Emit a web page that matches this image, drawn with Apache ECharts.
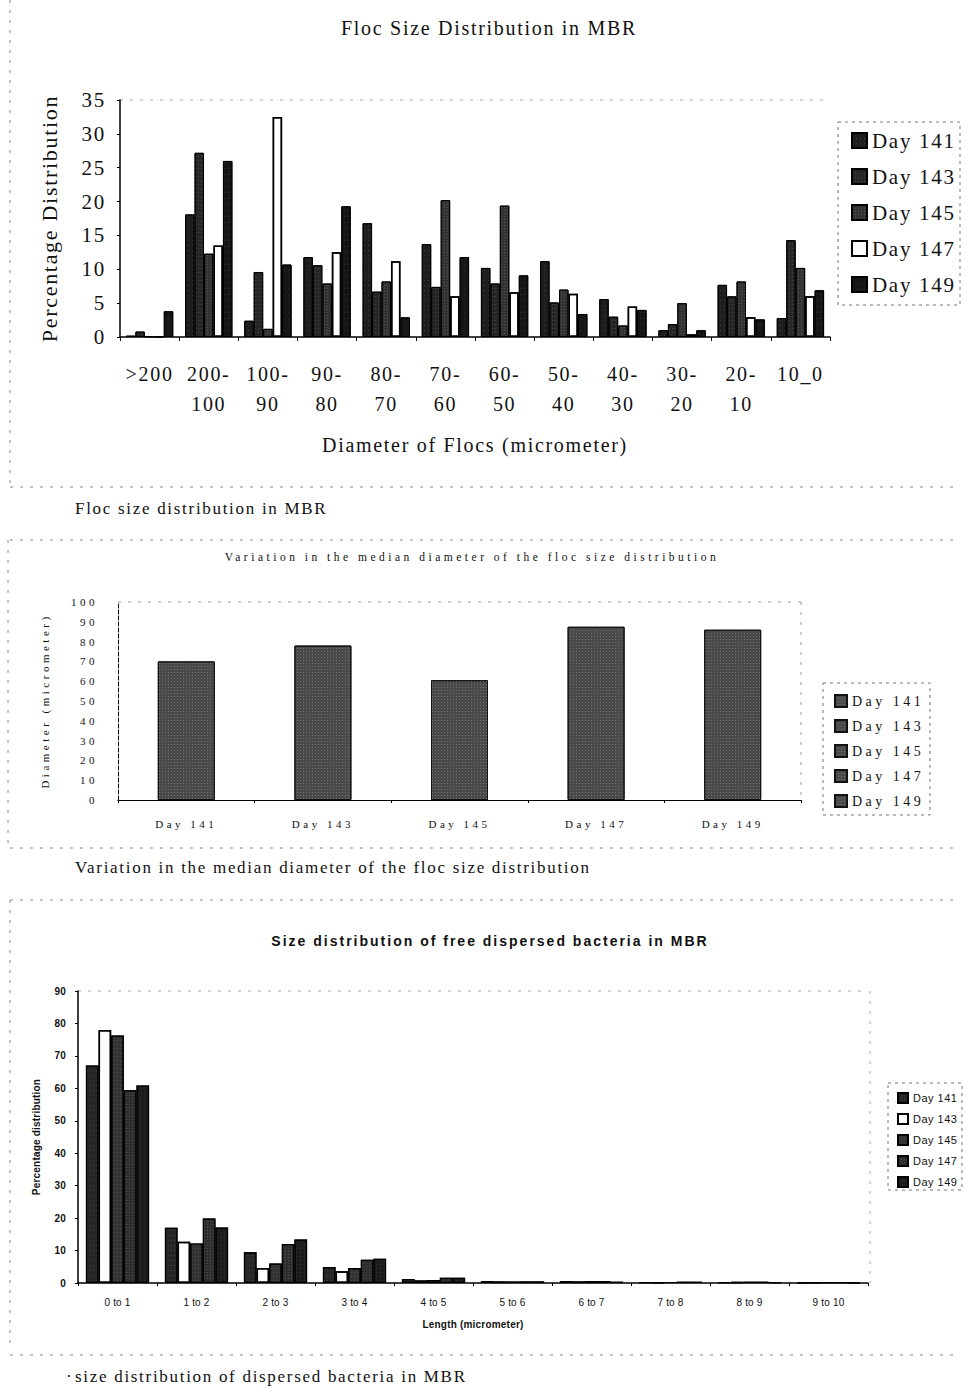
<!DOCTYPE html>
<html><head><meta charset="utf-8">
<script src="https://cdn.jsdelivr.net/npm/echarts@6/dist/echarts.min.js"></script>
<style>
html,body{margin:0;padding:0;background:#fff;}
#main{position:absolute;left:0;top:0;width:963px;height:1388px;}
</style></head><body>
<div id="main"></div>
<script>
// ---------- Chart 1: Floc size distribution ----------
const flocCategories = ['>200','200-100','100-90','90-80','80-70','70-60','60-50','50-40','40-30','30-20','20-10','10_0'];
const flocDay141 = [0.2, 18.1, 2.4, 11.8, 16.8, 13.7, 10.2, 11.2, 5.6, 1.0, 7.7, 2.8];
const flocDay143 = [0.8, 27.2, 9.6, 10.6, 6.7, 7.4, 7.9, 5.1, 3.0, 1.9, 6.0, 14.3];
const flocDay145 = [0.1, 12.3, 1.2, 7.9, 8.2, 20.2, 19.4, 7.0, 1.7, 5.0, 8.2, 10.2];
const flocDay147 = [0.1, 13.5, 32.5, 12.5, 11.2, 6.0, 6.6, 6.4, 4.5, 0.4, 2.9, 6.0];
const flocDay149 = [3.8, 26.0, 10.7, 19.3, 2.9, 11.8, 9.1, 3.4, 4.0, 1.0, 2.6, 6.9];
const flocTicks = [0,5,10,15,20,25,30,35];

// ---------- Chart 2: median diameter ----------
const medianCategories = ['Day 141','Day 143','Day 145','Day 147','Day 149'];
const medianDiameter = [70, 78, 60.5, 87.5, 86];
const medianTicks = [0,10,20,30,40,50,60,70,80,90,100];

// ---------- Chart 3: dispersed bacteria ----------
const bactCategories = ['0 to 1','1 to 2','2 to 3','3 to 4','4 to 5','5 to 6','6 to 7','7 to 8','8 to 9','9 to 10'];
const bactDay141 = [67.0, 17.0, 9.5, 4.9, 1.2, 0.6, 0.6, 0.2, 0.2, 0.1];
const bactDay143 = [78.0, 12.7, 4.6, 3.6, 0.8, 0.5, 0.5, 0.2, 0.3, 0.1];
const bactDay145 = [76.3, 12.2, 6.0, 4.6, 0.9, 0.5, 0.6, 0.3, 0.4, 0.2];
const bactDay147 = [59.4, 19.9, 12.0, 7.2, 1.6, 0.5, 0.6, 0.4, 0.4, 0.2];
const bactDay149 = [60.9, 17.1, 13.4, 7.5, 1.6, 0.5, 0.4, 0.4, 0.2, 0.1];
const bactTicks = [0,10,20,30,40,50,60,70,80,90];

const dayNames = ['Day 141','Day 143','Day 145','Day 147','Day 149'];

const SERIF = '"Liberation Serif","Times New Roman",serif';
const SANS = '"Liberation Sans",Arial,sans-serif';

function speckle(alpha, dx, dy) {
  return {symbol:'rect', symbolSize:0.7, color:'rgba(255,255,255,' + alpha + ')',
          dashArrayX:[1, dx], dashArrayY:[1, dy], rotation:0};
}
const flocStyles = [
  {color:'#1e1e1e', borderColor:'#000', borderWidth:1, decal:speckle(0.35,3,4)},
  {color:'#262626', borderColor:'#000', borderWidth:1, decal:speckle(0.4,2,3)},
  {color:'#333333', borderColor:'#000', borderWidth:1, decal:speckle(0.45,2,2)},
  {color:'#ffffff', borderColor:'#000', borderWidth:1.5, decal:speckle(0,3,3)},
  {color:'#161616', borderColor:'#000', borderWidth:1, decal:speckle(0.3,3,5)}
];
const bactStyles = [
  {color:'#262626', borderColor:'#000', borderWidth:1.2, decal:speckle(0.35,2,4)},
  {color:'#ffffff', borderColor:'#000', borderWidth:1.5, decal:speckle(0,3,3)},
  {color:'#333333', borderColor:'#000', borderWidth:1.2, decal:speckle(0.4,2,3)},
  {color:'#2e2e2e', borderColor:'#000', borderWidth:1.2, decal:speckle(0.45,2,2)},
  {color:'#1c1c1c', borderColor:'#000', borderWidth:1.2, decal:speckle(0.3,3,3)}
];
const medStyle = {color:'#4a4a4a', borderColor:'#111', borderWidth:1, decal:speckle(0.6,2,2)};
const flocData = [flocDay141, flocDay143, flocDay145, flocDay147, flocDay149];
const bactData = [bactDay141, bactDay143, bactDay145, bactDay147, bactDay149];
const medNames = dayNames.map(n => n + '  ');
const bactNames = dayNames.map(n => n + ' ');

const dash = (x1,y1,x2,y2,c) => ({type:'line', silent:true,
  shape:{x1,y1,x2,y2}, style:{stroke:c||'#8a8a8a', lineWidth:1, lineDash:[3,7]}});
const txt = (x,y,text,font,align) => ({type:'text', x, y,
  style:{text, font, fill:'#111', align:align||'left', verticalAlign:'middle'}});
const box = (x,y,w,h) => ({type:'rect', shape:{x, y, width:w, height:h}, silent:true,
  style:{fill:'none', stroke:'#777', lineWidth:1, lineDash:[3,4]}});

const chart = echarts.init(document.getElementById('main'), null, {renderer:'svg'});
chart.setOption({
  backgroundColor:'#fff',
  animation:false,
  aria:{enabled:true, decal:{show:true}},
  grid:[
    {left:120, top:100, width:710, height:237},
    {left:78, top:991, width:790, height:292},
    {left:118, top:602, width:683, height:198}
  ],
  xAxis:[
    {type:'category', gridIndex:0, data:flocCategories,
     axisLine:{lineStyle:{color:'#000', width:1.5}},
     axisTick:{show:true, length:4, lineStyle:{color:'#000'}},
     axisLabel:{interval:0, margin:22, color:'#111', fontFamily:SERIF, fontSize:20, lineHeight:30,
       formatter:v => v.replace(/^(\d+-)(\d+)$/, '$1\n$2')},
     name:'Diameter of Flocs (micrometer)', nameLocation:'middle', nameGap:98,
     nameTextStyle:{fontFamily:SERIF, fontSize:20, color:'#111'}},
    {type:'category', gridIndex:1, data:bactCategories,
     axisLine:{lineStyle:{color:'#000', width:1.5}},
     axisTick:{show:true, length:3, lineStyle:{color:'#000'}},
     axisLabel:{interval:0, margin:14, color:'#111', fontFamily:SANS, fontSize:10},
     name:'Length (micrometer)', nameLocation:'middle', nameGap:36,
     nameTextStyle:{fontFamily:SANS, fontSize:10, fontWeight:'bold', color:'#111'}},
    {type:'category', gridIndex:2, data:medianCategories,
     axisLine:{lineStyle:{color:'#000', width:1.2}},
     axisTick:{show:true, length:3, lineStyle:{color:'#000'}},
     axisLabel:{interval:0, margin:18, color:'#111', fontFamily:SERIF, fontSize:11}}
  ],
  yAxis:[
    {type:'value', gridIndex:0, min:flocTicks[0], max:flocTicks[flocTicks.length-1], interval:5,
     axisLine:{show:true, lineStyle:{color:'#000', width:1.5}},
     axisTick:{show:true, length:3, lineStyle:{color:'#000'}},
     splitLine:{show:false},
     axisLabel:{margin:14, color:'#111', fontFamily:SERIF, fontSize:21},
     name:'Percentage Distribution', nameLocation:'middle', nameGap:60,
     nameTextStyle:{fontFamily:SERIF, fontSize:22, color:'#111'}},
    {type:'value', gridIndex:1, min:bactTicks[0], max:bactTicks[bactTicks.length-1], interval:10,
     axisLine:{show:true, lineStyle:{color:'#000', width:1.5}},
     axisTick:{show:true, length:3, lineStyle:{color:'#000'}},
     splitLine:{show:false},
     axisLabel:{margin:12, color:'#111', fontFamily:SANS, fontSize:10, fontWeight:'bold'},
     name:'Percentage distribution', nameLocation:'middle', nameGap:37,
     nameTextStyle:{fontFamily:SANS, fontSize:10, fontWeight:'bold', color:'#111'}},
    {type:'value', gridIndex:2, min:medianTicks[0], max:medianTicks[medianTicks.length-1], interval:10,
     axisLine:{show:true, lineStyle:{color:'#000', width:1, type:'dashed'}},
     axisTick:{show:false}, splitLine:{show:false},
     axisLabel:{margin:20, color:'#111', fontFamily:SERIF, fontSize:11},
     name:'Diameter (micrometer)', nameLocation:'middle', nameGap:68,
     nameTextStyle:{fontFamily:SERIF, fontSize:11, color:'#111'}}
  ],
  legend:[
    {data:dayNames, orient:'vertical', left:846, top:125, itemWidth:15, itemHeight:15, itemGap:15,
     textStyle:{fontFamily:SERIF, fontSize:21, color:'#111'}, icon:'rect'},
    {data:bactNames, orient:'vertical', left:892, top:1087, itemWidth:10, itemHeight:10, itemGap:9,
     textStyle:{fontFamily:SANS, fontSize:11, color:'#111'}, icon:'rect'},
    {data:medNames, orient:'vertical', left:829, top:689, itemWidth:12, itemHeight:12, itemGap:11,
     textStyle:{fontFamily:SERIF, fontSize:14, color:'#111'}, icon:'rect'}
  ],
  series:[
    ...flocData.map((d,i) => ({type:'bar', name:dayNames[i], xAxisIndex:0, yAxisIndex:0, data:d,
      barGap:'0%', barCategoryGap:'20%', itemStyle:flocStyles[i]})),
    ...bactData.map((d,i) => ({type:'bar', name:bactNames[i], xAxisIndex:1, yAxisIndex:1, data:d,
      barGap:'0%', barCategoryGap:'20%', itemStyle:bactStyles[i]})),
    ...medianCategories.map((c,i) => ({type:'bar', name:medNames[i], xAxisIndex:2, yAxisIndex:2,
      stack:'median', barWidth:57, itemStyle:medStyle,
      data:medianDiameter.map((v,j) => j === i ? v : '-')}))
  ],
  graphic:[
    txt(489, 28, 'Floc Size Distribution in MBR', '20px ' + SERIF, 'center'),
    box(838, 122, 122, 183),
    dash(120, 100, 830, 100, '#aaa'),
    txt(75, 508, 'Floc size distribution in MBR', '17px ' + SERIF),
    dash(10, 487, 960, 487), dash(10, 0, 10, 487),
    dash(10, 540, 960, 540), dash(8, 540, 8, 848), dash(10, 848, 960, 848),
    txt(472, 557, 'Variation in the median diameter of the floc size distribution', '11.5px ' + SERIF, 'center'),
    box(823, 683, 107, 132),
    dash(118, 602, 801, 602, '#999'), dash(801, 602, 801, 800, '#999'),
    txt(75, 867, 'Variation in the median diameter of the floc size distribution', '17px ' + SERIF),
    dash(10, 900, 960, 900), dash(10, 900, 10, 1350),
    txt(490, 941, 'Size distribution of free dispersed bacteria in MBR', 'bold 14px ' + SANS, 'center'),
    dash(78, 991, 868, 991, '#aaa'), dash(870, 991, 870, 1283, '#aaa'),
    box(888, 1083, 74, 107),
    dash(10, 1355, 960, 1355),
    txt(66, 1376, '·', '17px ' + SERIF),
    txt(75, 1376, 'size distribution of dispersed bacteria in MBR', '17px ' + SERIF)
  ]
});

// The scanned reference has widened lettering; reproduce it with letter-spacing on the SVG text.
function spaceLetters() {
  document.querySelectorAll('#main svg text').forEach(el => {
    const cs = getComputedStyle(el);
    const size = parseFloat(cs.fontSize) || 12;
    const serif = /Serif|Times/i.test(cs.fontFamily) && !/Sans/i.test(cs.fontFamily);
    let sp;
    if (serif) sp = size >= 15 ? 1.7 : 3.5;
    else sp = size >= 13 ? 2 : (size >= 11 ? 0.5 : 0.2);
    el.setAttribute('letter-spacing', sp + 'px');
  });
}
chart.on('finished', spaceLetters);
spaceLetters();
setTimeout(spaceLetters, 0);
setTimeout(spaceLetters, 200);
requestAnimationFrame(spaceLetters);
</script></body></html>
